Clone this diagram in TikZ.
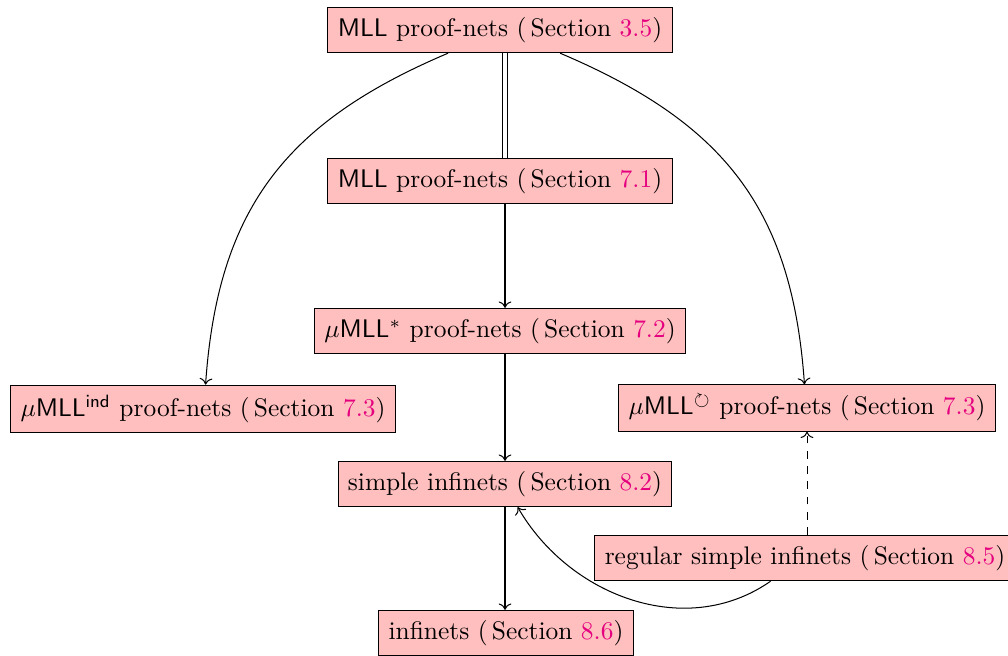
\documentclass[tikz,border=0pt]{standalone}
\usepackage{amssymb}
\usetikzlibrary{arrows.meta}
\definecolor{secmag}{RGB}{228,0,126}
\newcommand{\sref}[1]{(\,Section \textcolor{secmag}{#1})}
\begin{document}
\begin{tikzpicture}[x=0.393pt,y=-0.393pt,
  box/.style={draw, fill=red!25, inner sep=3.9pt},
  arr/.style={-{To[length=2.5pt,width=5pt]}}]
\useasboundingbox (0,0) rectangle (1008,655);
\node[box] (top) at (500,30) {\textsf{MLL} proof-nets \sref{3.5}};
\node[box] (s71) at (500,181) {\textsf{MLL} proof-nets \sref{7.1}};
\node[box] (s72) at (500,331) {$\mu$\textsf{MLL}$^*$ proof-nets \sref{7.2}};
\node[box] (ind) at (203,409) {$\mu$\textsf{MLL}$^{\mathsf{ind}}$ proof-nets \sref{7.3}};
\node[box] (circ) at (807,408) {$\mu$\textsf{MLL}$^{\circlearrowright}$ proof-nets \sref{7.3}};
\node[box] (simple) at (505,484) {simple infinets \sref{8.2}};
\node[box] (reg) at (805,558) {regular simple infinets \sref{8.5}};
\node[box] (inf) at (506,633) {infinets \sref{8.6}};
\draw[double, double distance=1.6pt] (top.south -| simple.center) -- (s71.north -| simple.center);
\draw[arr] (s71.south -| simple.center) -- (s72.north -| simple.center);
\draw[arr] (s72.south -| simple.center) -- (simple.north);
\draw[arr] (simple.south) -- (inf.north -| simple.center);
\coordinate (tl) at ([xshift=-20.4pt]top.south);
\draw[arr] (tl) to[out=-157,in=86,looseness=1.1] ([xshift=1pt]ind.north);
\coordinate (tr) at ([xshift=23.6pt]top.south);
\draw[arr] (tr) to[out=-23,in=94,looseness=1.1] ([xshift=-1pt]circ.north);
\draw[arr, dashed] (reg.north -| circ.south) -- (circ.south);
\coordinate (rs) at ([xshift=-13.5pt]reg.south);
\coordinate (se) at ([xshift=5pt]simple.south);
\draw[arr] (rs) to[out=-145,in=-60] (se);
\end{tikzpicture}
\end{document}
